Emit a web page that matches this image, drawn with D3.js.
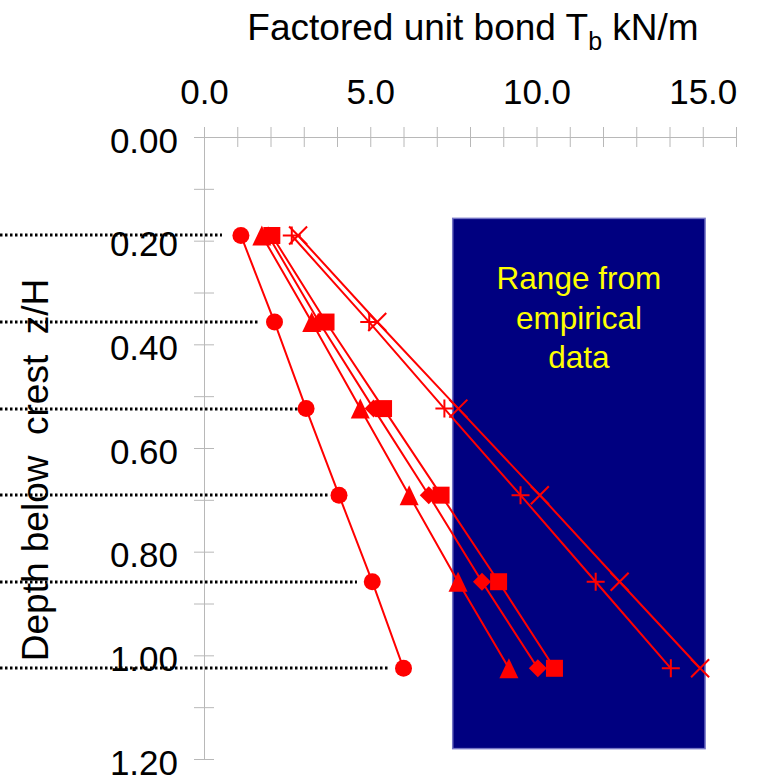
<!DOCTYPE html>
<html>
<head>
<meta charset="utf-8">
<script src="https://cdn.jsdelivr.net/npm/d3@7"></script>
<style>
    body { margin: 0; background: #fff; }
    svg text { font-family: "Liberation Sans", Arial, sans-serif; }
</style>
</head>
<body>
<svg class="MainSvg"></svg>
<script>
    // depth z/H of each reinforcement layer
    var depths = [0.19, 0.357, 0.524, 0.691, 0.858, 1.025];
    // factored unit bond Tb (kN/m), one array per curve
    var circleVals = [1.11, 2.12, 3.07, 4.06, 5.06, 6.00];
    var triangleVals = [1.74, 3.24, 4.70, 6.17, 7.64, 9.17];
    var diamondVals = [1.93, 3.46, 5.10, 6.76, 8.36, 10.04];
    var squareVals = [2.04, 3.67, 5.40, 7.13, 8.86, 10.54];
    var plusVals = [2.64, 4.97, 7.23, 9.52, 11.78, 14.04];
    var crossVals = [2.83, 5.21, 7.65, 10.10, 12.50, 14.92];
    // where the dotted layer lines stop
    var guideEnd = [0.54, 1.62, 2.89, 3.79, 4.60, 5.59];
    // empirical range box
    var empiricalX = [7.48, 15.07];
    var empiricalZ = [0.157, 1.18];
    var boxLines = ["Range from", "empirical", "data"];

    var xTicks = d3.range(0, 17);
    var xLabelTicks = [0, 5, 10, 15];
    var yTicks = d3.range(0, 13).map(function (i) { return i / 10; });
    var yLabelTicks = [0, 0.2, 0.4, 0.6, 0.8, 1.0, 1.2];

    var width = 757, height = 778;
    var axisColor = "#b8b8b8";
    var red = "#ff0000";

    var x = d3.scaleLinear().domain([0, 16]).range([204, 736]);
    var y = d3.scaleLinear().domain([0, 1.2]).range([137, 759]);

    var svg = d3.select(".MainSvg")
        .attr("width", width)
        .attr("height", height);

    // empirical box
    svg.append("rect")
        .attr("x", x(empiricalX[0]))
        .attr("y", y(empiricalZ[0]))
        .attr("width", x(empiricalX[1]) - x(empiricalX[0]))
        .attr("height", y(empiricalZ[1]) - y(empiricalZ[0]))
        .attr("fill", "#000080")
        .attr("stroke", "#7474c4")
        .attr("stroke-width", 1.5);

    svg.append("g").selectAll("text")
        .data(boxLines)
        .enter()
        .append("text")
        .attr("x", (x(empiricalX[0]) + x(empiricalX[1])) / 2)
        .attr("y", function (d, i) { return 289 + i * 39.5; })
        .attr("text-anchor", "middle")
        .attr("font-size", 31.5)
        .attr("fill", "#ffff00")
        .text(function (d) { return d; });

    // top axis
    var xAxis = d3.axisTop(x)
        .tickValues(xTicks)
        .tickSizeOuter(0)
        .tickFormat(function (d) { return xLabelTicks.indexOf(d) >= 0 ? d3.format(".1f")(d) : ""; });
    var gx = svg.append("g")
        .attr("transform", "translate(0," + y(0) + ")")
        .call(xAxis);
    gx.attr("font-family", null).attr("font-size", null);
    gx.select(".domain").attr("stroke", axisColor);
    gx.selectAll(".tick line").attr("y1", -10).attr("y2", 10).attr("stroke", axisColor);
    gx.selectAll(".tick text")
        .attr("y", -33).attr("dy", null)
        .attr("font-size", 35).attr("fill", "#000");

    // left axis
    var yAxis = d3.axisLeft(y)
        .tickValues(yTicks)
        .tickSizeOuter(0)
        .tickFormat(function (d) {
            return yLabelTicks.some(function (v) { return Math.abs(v - d) < 1e-9; }) ? d3.format(".2f")(d) : "";
        });
    var gy = svg.append("g")
        .attr("transform", "translate(" + x(0) + ",0)")
        .call(yAxis);
    gy.attr("font-family", null).attr("font-size", null);
    gy.select(".domain").attr("stroke", axisColor);
    gy.selectAll(".tick line").attr("x1", -10).attr("x2", 10).attr("stroke", axisColor);
    gy.selectAll(".tick text")
        .attr("x", -26).attr("dy", 15)
        .attr("font-size", 35).attr("fill", "#000");

    // titles
    var title = svg.append("text")
        .attr("x", 473)
        .attr("y", 40)
        .attr("text-anchor", "middle")
        .attr("font-size", 37);
    title.append("tspan").text("Factored unit bond T");
    title.append("tspan").attr("font-size", 25).attr("dy", 10).text("b");
    title.append("tspan").attr("dy", -10).text(" kN/m");

    svg.append("text")
        .attr("transform", "translate(48,470) rotate(-90)")
        .attr("text-anchor", "middle")
        .attr("font-size", 37)
        .style("white-space", "pre")
        .text("Depth below  crest  z/H");

    // dotted layer lines
    svg.append("g").selectAll("line")
        .data(depths)
        .enter()
        .append("line")
        .attr("x1", 0)
        .attr("x2", function (d, i) { return x(guideEnd[i]); })
        .attr("y1", function (d) { return Math.round(y(d)); })
        .attr("y2", function (d) { return Math.round(y(d)); })
        .attr("stroke", "#000")
        .attr("stroke-width", 3)
        .attr("stroke-dasharray", "2.5,2.5");

    // series
    var tri = "M0,-10L9.5,10L-9.5,10Z";
    var sq = "M-8.5,-8.5H8.5V8.5H-8.5Z";
    var dia = "M0,-9L9,0L0,9L-9,0Z";
    var plus = "M-9,0H9M0,-9V9";
    var cross = "M-9,-9L9,9M9,-9L-9,9";
    var series = [
        { vals: circleVals, shape: "circle" },
        { vals: triangleVals, shape: tri, fill: true },
        { vals: diamondVals, shape: dia, fill: true },
        { vals: squareVals, shape: sq, fill: true },
        { vals: plusVals, shape: plus, fill: false },
        { vals: crossVals, shape: cross, fill: false }
    ];

    var line = d3.line()
        .x(function (d) { return x(d[0]); })
        .y(function (d) { return y(d[1]); });

    series.forEach(function (s) {
        var pts = s.vals.map(function (v, i) { return [v, depths[i]]; });
        svg.append("path")
            .datum(pts)
            .attr("d", line)
            .attr("fill", "none")
            .attr("stroke", red)
            .attr("stroke-width", 2);
    });

    series.forEach(function (s) {
        var pts = s.vals.map(function (v, i) { return [v, depths[i]]; });
        var g = svg.append("g");
        if (s.shape === "circle") {
            g.selectAll("circle").data(pts).enter().append("circle")
                .attr("cx", function (d) { return x(d[0]); })
                .attr("cy", function (d) { return y(d[1]); })
                .attr("r", 8.5)
                .attr("fill", red);
        } else {
            g.selectAll("path").data(pts).enter().append("path")
                .attr("transform", function (d) { return "translate(" + x(d[0]) + "," + y(d[1]) + ")"; })
                .attr("d", s.shape)
                .attr("fill", s.fill ? red : "none")
                .attr("stroke", red)
                .attr("stroke-width", s.fill ? 0 : 2);
        }
    });
</script>
</body>
</html>
